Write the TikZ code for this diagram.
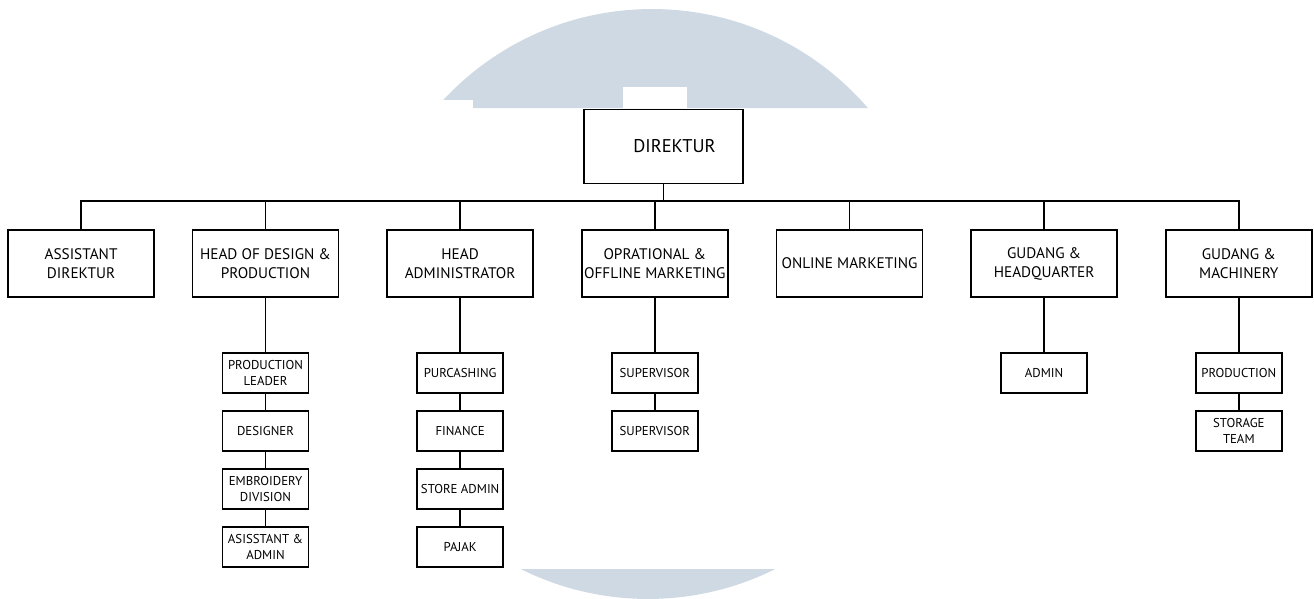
\documentclass[tikz,border=0pt]{standalone}
\usepackage{fontspec}
\setmainfont{PT Sans}
\definecolor{wm}{RGB}{207,217,227}
\tikzset{
    boss/.style =   {rectangle,
                    fill=white,
                    draw=black,
                    text=black,
                    line width=0.9pt,
                    minimum width=3.18cm,
                    minimum height=1.48cm,
                    font=\fontsize{10.5}{12}\selectfont},
    box/.style =    {rectangle,
                    fill=white,
                    draw=black,
                    text=black,
                    line width=0.9pt,
                    align=center,
                    inner sep=1pt,
                    minimum width=2.92cm,
                    minimum height=1.34cm,
                    font=\fontsize{8.7}{10.8}\selectfont},
    sub/.style =    {rectangle,
                    fill=white,
                    draw=black,
                    text=black,
                    line width=0.9pt,
                    align=center,
                    inner sep=1pt,
                    minimum width=1.72cm,
                    minimum height=0.8cm,
                    font=\fontsize{7.3}{9.4}\selectfont},
    line/.style =   {draw=black,
                    line width=0.9pt},
    node distance=3.894cm}

\begin{document}
\begin{tikzpicture}[x=0.02cm,y=-0.02cm]
                \useasboundingbox (0,0) rectangle (1314,598);

                % watermark behind the chart
                \begin{scope}
                    \clip (0,0) -- (1314,0) -- (1314,108) -- (473,108) -- (473,100) -- (0,100) -- cycle;
                    \fill[wm] (652,294) circle [radius=5.7cm];
                    \fill[white] (623,87) rectangle (687,108);
                \end{scope}
                \begin{scope}
                    \clip (0,569) rectangle (1314,598);
                    \fill[wm] (648,314) circle [radius=5.7cm];
                \end{scope}

                \node[boss]     (direktur) at (663.5,146.5) {\hspace*{0.44cm}DIREKTUR};
                \coordinate     (bus) at (663.5,201);

                \node[box]      (design) at (265.5,263.5)   {HEAD OF DESIGN \&\\PRODUCTION};
                \node[box]      (assist) [left of=design,node distance=3.69cm] {ASSISTANT\\DIREKTUR};
                \node[box]      (admin)  [right of=design]  {HEAD\\ADMINISTRATOR};
                \node[box]      (oprat)  [right of=admin]   {OPRATIONAL \&\\OFFLINE MARKETING};
                \node[box]      (online) [right of=oprat]   {ONLINE MARKETING};
                \node[box]      (ghq)    [right of=online]  {GUDANG \&\\HEADQUARTER};
                \node[box]      (gmach)  [right of=ghq]     {GUDANG \&\\MACHINERY};

                \node[sub]      (pleader)  [below of=design,node distance=2.19cm]  {PRODUCTION\\LEADER};
                \node[sub]      (designer) [below of=pleader,node distance=1.16cm] {DESIGNER};
                \node[sub]      (embro)    [below of=designer,node distance=1.16cm] {EMBROIDERY\\DIVISION};
                \node[sub]      (asadmin)  [below of=embro,node distance=1.16cm]   {ASISSTANT \&\\ADMIN};

                \node[sub]      (purc)     [below of=admin,node distance=2.19cm]   {PURCASHING};
                \node[sub]      (finance)  [below of=purc,node distance=1.16cm]    {FINANCE};
                \node[sub]      (store)    [below of=finance,node distance=1.16cm] {STORE ADMIN};
                \node[sub]      (pajak)    [below of=store,node distance=1.16cm]   {PAJAK};

                \node[sub]      (superA)   [below of=oprat,node distance=2.19cm]   {SUPERVISOR};
                \node[sub]      (superB)   [below of=superA,node distance=1.16cm]  {SUPERVISOR};

                \node[sub]      (hqadmin)  [below of=ghq,node distance=2.19cm]     {ADMIN};

                \node[sub]      (prod)     [below of=gmach,node distance=2.19cm]   {PRODUCTION};
                \node[sub]      (storage)  [below of=prod,node distance=1.16cm]    {STORAGE\\TEAM};

                \draw[line] (direktur) -- (bus);
                \draw[line] (bus) -| (assist);
                \draw[line] (bus) -| (design);
                \draw[line] (bus) -| (admin);
                \draw[line] (bus) -| (oprat);
                \draw[line] (bus) -| (online);
                \draw[line] (bus) -| (ghq);
                \draw[line] (bus) -| (gmach);

                \path [line]    (design) edge []    (pleader)
                                (pleader) edge []   (designer)
                                (designer) edge []  (embro)
                                (embro) edge []     (asadmin)
                                (admin) edge []     (purc)
                                (purc) edge []      (finance)
                                (finance) edge []   (store)
                                (store) edge []     (pajak)
                                (oprat) edge []     (superA)
                                (superA) edge []    (superB)
                                (ghq) edge []       (hqadmin)
                                (gmach) edge []     (prod)
                                (prod) edge []      (storage);
        \end{tikzpicture}
\end{document}
